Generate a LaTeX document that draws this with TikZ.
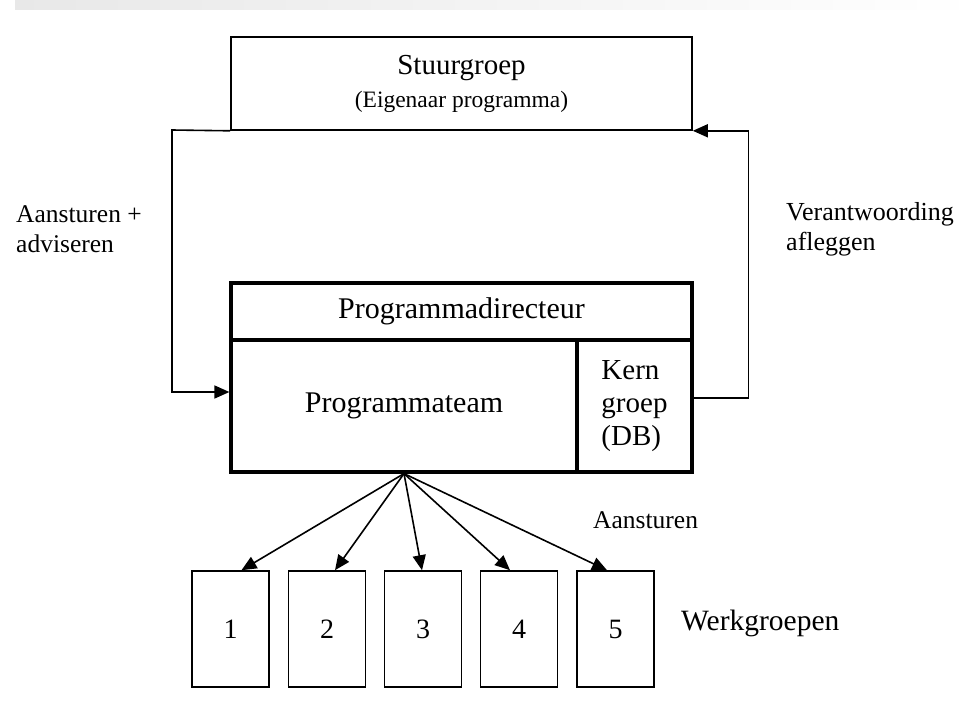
\documentclass[tikz,border=0pt]{standalone}
\usepackage{fontspec}
\setmainfont{Liberation Serif}
\usetikzlibrary{arrows.meta,positioning}

\tikzset{
	thinbox/.style={draw, rectangle, line width=1.6pt, inner sep=0pt},
	thickbox/.style={draw, rectangle, line width=3.2pt, inner sep=0pt},
	flow/.style={line width=1.6pt, -{Triangle[length=15pt,width=13pt]}},
	lbl/.style={font=\fontsize{25.5}{30}\selectfont, align=left, inner sep=0pt}
}

\begin{document}
\begin{tikzpicture}[x=1pt, y=-1pt]
	\useasboundingbox (0,0) rectangle (979,704);
	\shade[left color=gray!18, right color=white] (15,0) rectangle (979,9);

	\node[thinbox, minimum width=461pt, minimum height=93pt, align=center, font=\fontsize{29}{33}\selectfont] (stuur) at (461.5,83.5) {Stuurgroep\\{\fontsize{23.5}{25}\selectfont(Eigenaar programma)}};

	\node[thickbox, minimum width=461pt, minimum height=57pt, font=\fontsize{30}{30}\selectfont] (dir) at (461.5,311.5) {Programmadirecteur};
	\node[thickbox, minimum width=346pt, minimum height=132pt, font=\fontsize{30}{30}\selectfont] (team) at (404,406) {Programmateam};
	\node[thickbox, minimum width=115pt, minimum height=132pt, align=left, font=\fontsize{29}{33}\selectfont] (kern) at (634.5,406) {Kern\\groep\\(DB)};

	% werkgroepen
	\foreach \i/\x in {1/230.5,2/327,3/423,4/519,5/615.5}
		\node[thinbox, minimum width=77pt, minimum height=116pt, font=\fontsize{28}{30}\selectfont] (w\i) at (\x,629) {\raisebox{-4pt}{\i}};

	\foreach \i/\d in {1/11,2/8,3/-1,4/-9,5/-8.5}
		\draw[flow] (team.south) -- ([xshift=\d pt]w\i.north);

	\coordinate (lft) at (172,130);
	\draw[flow] (stuur.south west) -- (lft) |- ([yshift=14pt]team.west);
	\draw[flow] ([yshift=8pt]kern.east) -- ++(55,0) |- (stuur.south east);

	\node[lbl, anchor=west] (ansadv) at (16,229) {Aansturen +\\adviseren};
	\node[lbl, anchor=west, font=\fontsize{26}{30}\selectfont] (verantw) at (786,229) {Verantwoording\\afleggen};
	\node[lbl, anchor=west] (anst) at (593,520) {Aansturen};
	\node[lbl, anchor=west, font=\fontsize{29.5}{30}\selectfont] (werkgr) at (681,623) {Werkgroepen};
\end{tikzpicture}
\end{document}
